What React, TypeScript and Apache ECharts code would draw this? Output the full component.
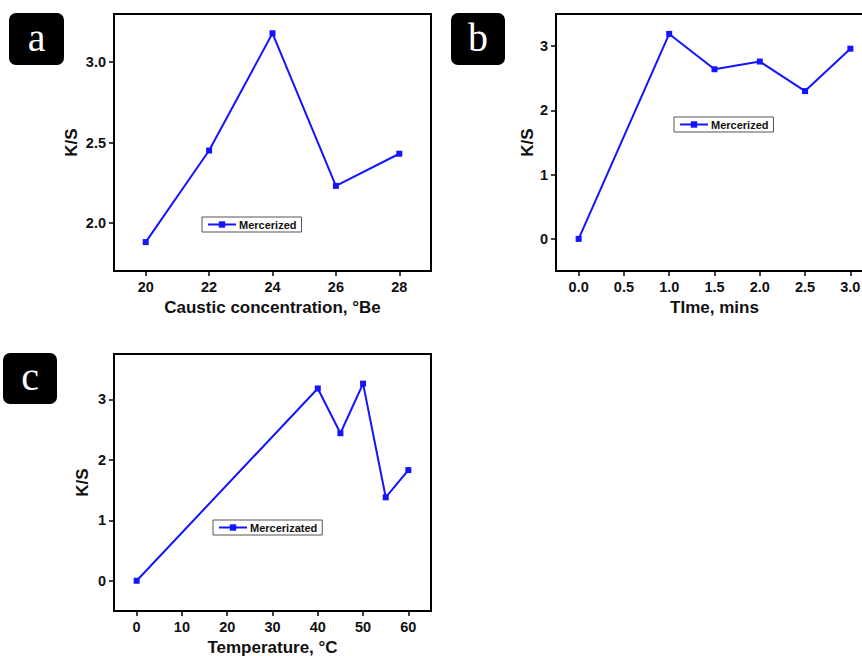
import React, { useEffect, useRef } from "react";
import * as echarts from "echarts";

const xA = [20, 22, 24, 26, 28];
const yA = [1.88, 2.45, 3.18, 2.23, 2.43];
const xB = [0, 1.0, 1.5, 2.0, 2.5, 3.0];
const yB = [0, 3.19, 2.64, 2.76, 2.3, 2.96];
const xC = [0, 40, 45, 50, 55, 60];
const yC = [0, 3.18, 2.44, 3.26, 1.38, 1.83];

const ticksAX = [20, 22, 24, 26, 28];
const ticksAY = [2.0, 2.5, 3.0];
const ticksBX = [0, 0.5, 1.0, 1.5, 2.0, 2.5, 3.0];
const ticksBY = [0, 1, 2, 3];
const ticksCX = [0, 10, 20, 30, 40, 50, 60];
const ticksCY = [0, 1, 2, 3];

const nameA = "Mercerized";
const nameB = "Mercerized";
const nameC = "Mercerizated";
const titleAX = "Caustic concentration, °Be";
const titleBX = "TIme, mins";
const titleCX = "Temperature, °C";
const titleY = "K/S";

const FONT = "'Liberation Sans', Arial, sans-serif";
const BLUE = "#1414ff";

function xAxis(gridIndex: number, min: number, max: number, ticks: number[], name: string, fmt: (v: number) => string) {
  return {
    type: "value",
    gridIndex,
    min,
    max,
    name,
    nameLocation: "middle",
    nameGap: 28,
    nameTextStyle: { fontFamily: FONT, fontWeight: "bold", fontSize: 17, color: "#111" },
    axisLine: { show: true, onZero: false, lineStyle: { color: "#000", width: 2 } },
    axisTick: { show: true, inside: false, length: 5, customValues: ticks, lineStyle: { color: "#000", width: 1.5 } },
    axisLabel: { show: true, margin: 8, customValues: ticks, formatter: fmt, fontFamily: FONT, fontWeight: "bold", fontSize: 14.5, color: "#111" },
    splitLine: { show: false },
  };
}

function yAxis(gridIndex: number, min: number, max: number, ticks: number[], gap: number, fmt: (v: number) => string) {
  return {
    type: "value",
    gridIndex,
    min,
    max,
    name: titleY,
    nameLocation: "middle",
    nameGap: gap,
    nameRotate: 90,
    nameTextStyle: { fontFamily: FONT, fontWeight: "bold", fontSize: 17, color: "#111" },
    axisLine: { show: true, onZero: false, lineStyle: { color: "#000", width: 2 } },
    axisTick: { show: true, inside: false, length: 5, customValues: ticks, lineStyle: { color: "#000", width: 1.5 } },
    axisLabel: { show: true, margin: 8, customValues: ticks, formatter: fmt, fontFamily: FONT, fontWeight: "bold", fontSize: 14.5, color: "#111" },
    splitLine: { show: false },
  };
}

function series(name: string, xs: number[], ys: number[], idx: number) {
  return {
    type: "line",
    name,
    xAxisIndex: idx,
    yAxisIndex: idx,
    data: xs.map((x, i) => [x, ys[i]]),
    symbol: "rect",
    symbolSize: 6,
    showAllSymbol: true,
    lineStyle: { color: BLUE, width: 2 },
    itemStyle: { color: BLUE },
  };
}

function legend(name: string, left: number, top: number) {
  return {
    data: [name],
    left,
    top,
    orient: "horizontal",
    padding: [2, 5, 2, 5],
    itemWidth: 28,
    itemHeight: 8,
    itemGap: 4,
    borderColor: "#555",
    borderWidth: 1,
    backgroundColor: "#fff",
    selectedMode: false,
    textStyle: { fontFamily: FONT, fontWeight: "bold", fontSize: 11, color: "#111", padding: [0, 0, 0, -2] },
  };
}

function badge(letter: string, x: number, y: number, w: number, h: number) {
  return {
    type: "group",
    left: x,
    top: y,
    children: [
      { type: "rect", shape: { x: 0, y: 0, width: w, height: h, r: 7 }, style: { fill: "#000" } },
      {
        type: "text",
        x: w / 2,
        y: h / 2 - 2,
        style: {
          text: letter,
          fill: "#fff",
          font: "40px 'Liberation Serif', 'DejaVu Serif', serif",
          align: "center",
          verticalAlign: "middle",
        },
      },
    ],
  };
}

export default function App() {
  const ref = useRef<HTMLDivElement>(null);
  useEffect(() => {
    if (!ref.current) return;
    const chart = echarts.init(ref.current, null, { renderer: "svg" });
    const gridStyle = { show: true, borderColor: "#000", borderWidth: 2, backgroundColor: "transparent", containLabel: false, outerBoundsMode: "none" };
    chart.setOption({
      animation: false,
      backgroundColor: "#fff",
      grid: [
        { ...gridStyle, left: 114, top: 14, width: 317, height: 257 },
        { ...gridStyle, left: 556, top: 14, width: 317, height: 257 },
        { ...gridStyle, left: 114, top: 354, width: 317, height: 257 },
      ],
      xAxis: [
        xAxis(0, 19, 29, ticksAX, titleAX, (v: number) => String(v)),
        xAxis(1, -0.25, 3.25, ticksBX, titleBX, (v: number) => v.toFixed(1)),
        xAxis(2, -5, 65, ticksCX, titleCX, (v: number) => String(v)),
      ],
      yAxis: [
        yAxis(0, 1.7, 3.3, ticksAY, 34, (v: number) => v.toFixed(1)),
        yAxis(1, -0.5, 3.5, ticksBY, 20, (v: number) => String(v)),
        yAxis(2, -0.5, 3.75, ticksCY, 23, (v: number) => String(v)),
      ],
      legend: [legend(nameA, 202, 217), legend(nameB, 674, 117), legend(nameC, 213, 520)],
      series: [series(nameA, xA, yA, 0), series(nameB, xB, yB, 1), series(nameC, xC, yC, 2)],
      graphic: [badge("a", 9, 13, 55, 52), badge("b", 451, 13, 54, 52), badge("c", 3, 353, 54, 51)],
    });
    return () => chart.dispose();
  }, []);
  return <div ref={ref} style={{ position: "fixed", left: 0, top: 0, width: 862, height: 656 }} />;
}
